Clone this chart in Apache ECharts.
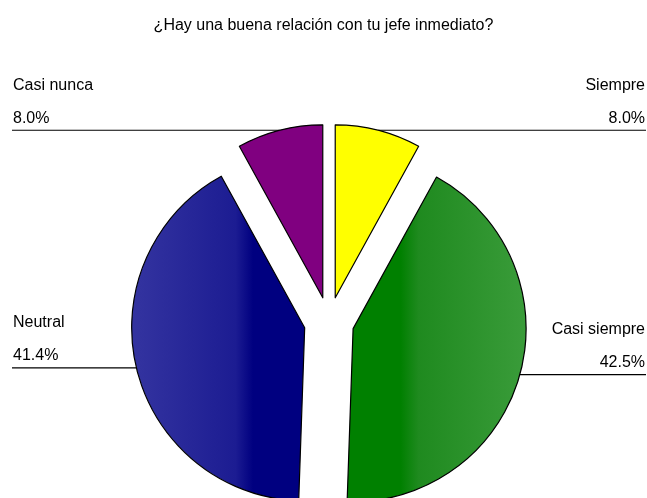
<!DOCTYPE html>
<html>
<head>
<meta charset="utf-8">
<script src="https://cdn.jsdelivr.net/npm/echarts@6/dist/echarts.min.js"></script>
<style>
    html, body { margin: 0; padding: 0; background: #fff; }
    #chart { width: 647px; height: 498px; }
</style>
</head>
<body>
<div id="chart"></div>
<script>
// 数据
const categories = ['Siempre', 'Casi siempre', 'Neutral', 'Casi nunca'];
const percents = [8.0, 42.5, 41.4, 8.0];
const sliceColors = [
    '#ffff00',
    { type: 'linear', x: 0, y: 0, x2: 1, y2: 0, colorStops: [
        { offset: 0, color: '#008000' }, { offset: 0.3, color: '#008000' },
        { offset: 0.4, color: '#1f8a1f' }, { offset: 1, color: '#3a9c3a' }] },
    { type: 'linear', x: 0, y: 0, x2: 1, y2: 0, colorStops: [
        { offset: 0, color: '#3434a0' }, { offset: 0.6, color: '#1c1c92' },
        { offset: 0.7, color: '#000080' }, { offset: 1, color: '#000080' }] },
    '#800080'
];

const chartWidth = 647;
const explode = 25;
const textLeft = 13;    // 左侧文字起点
const textRight = 645;  // 右侧文字终点

const chart = echarts.init(document.getElementById('chart'));

// 选中偏移会把标签一起平移，这里按扇区中线算出水平偏移来抵消
const total = percents.reduce((a, b) => a + b, 0);
let cum = 0;
const pieData = categories.map((name, i) => {
    const mid = (cum + percents[i] / 2) / total * Math.PI * 2;
    cum += percents[i];
    const dx = Math.sin(mid) * explode;
    const isLeft = dx < 0;
    return {
        name: name,
        value: percents[i],
        selected: true,
        itemStyle: { color: sliceColors[i] },
        label: {
            edgeDistance: isLeft ? textLeft - dx : chartWidth - textRight + dx
        }
    };
});

const option = {
    animation: false,
    title: {
        text: '¿Hay una buena relación con tu jefe inmediato?',
        left: 'center',
        top: 13,
        textStyle: {
            color: '#000',
            fontSize: 16,
            fontWeight: 'normal',
            fontFamily: 'Liberation Sans'
        }
    },
    series: [{
        type: 'pie',
        center: [329, 322],
        radius: 173,
        startAngle: 90,
        clockwise: true,
        selectedMode: 'multiple',
        selectedOffset: explode,
        avoidLabelOverlap: false,
        itemStyle: {
            borderColor: '#000',
            borderWidth: 1.2
        },
        label: {
            show: true,
            alignTo: 'edge',
            color: '#000',
            fontFamily: 'Liberation Sans',
            formatter: p => '{t|' + p.name + '}\n{t|' + p.value.toFixed(1) + '%}\n{g| }',
            rich: {
                t: { fontSize: 16, lineHeight: 33, color: '#000', fontFamily: 'Liberation Sans' },
                g: { fontSize: 1, lineHeight: 57 }
            }
        },
        labelLine: {
            show: true,
            length: 0,
            length2: 0,
            lineStyle: { color: '#000', width: 1.2 }
        },
        labelLayout: function (params) {
            const points = params.labelLinePoints;
            const isLeft = points[0][0] > params.labelRect.x + params.labelRect.width / 2;
            const y = points[0][1];
            points[1] = [points[0][0], y];
            points[2] = [isLeft ? params.labelRect.x - 1 : params.labelRect.x + params.labelRect.width + 1, y];
            return { labelLinePoints: points };
        },
        emphasis: { disabled: true },
        data: pieData
    }]
};

chart.setOption(option);
</script>
</body>
</html>
